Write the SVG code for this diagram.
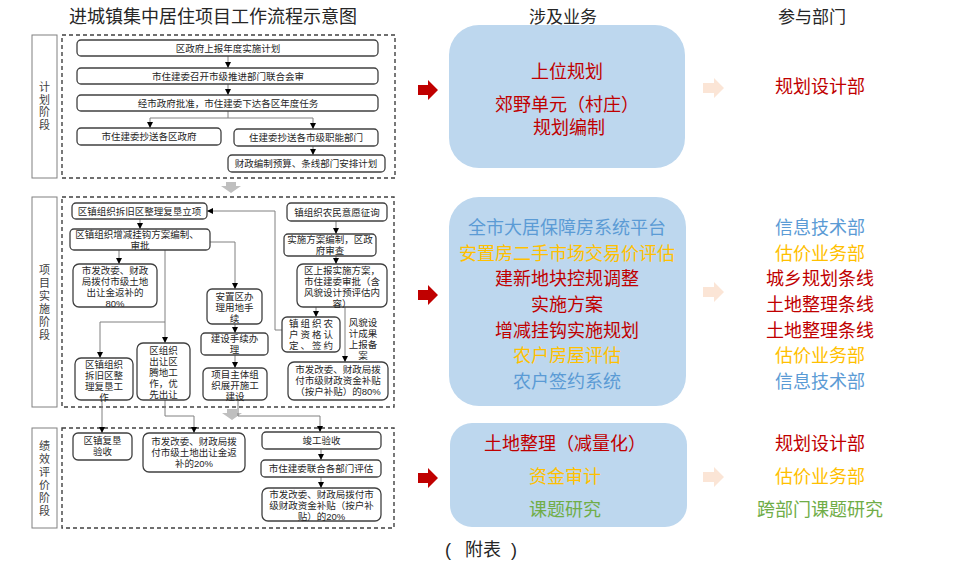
<svg xmlns="http://www.w3.org/2000/svg" width="960" height="567" viewBox="0 0 960 567">
<defs>
<style>
text{font-family:"Liberation Sans","Noto Sans CJK SC",sans-serif;dominant-baseline:central;text-anchor:middle}
.t{font-size:9.5px;fill:#262626}
.ph{font-size:11px;fill:#404040}
.bx{fill:#fff;stroke:#404040;stroke-width:1.3}
.lb{fill:#fff;stroke:#808080;stroke-width:1}
.fr{fill:none;stroke:#404040;stroke-width:1.4;stroke-dasharray:4 3}
.cn{fill:none;stroke:#808080;stroke-width:1}
.big{font-size:18px}
.hd{font-size:17px;fill:#262626}
.r{fill:#C00000}.g{fill:#FFC000}.b{fill:#5B9BD5}.gr{fill:#70AD47}
.bl{fill:#BDD7EE}
</style>
<marker id="ah" markerWidth="6" markerHeight="6" refX="6" refY="3" orient="auto" markerUnits="userSpaceOnUse"><path d="M0,0 L6,3 L0,6 z" fill="#000"/></marker>
</defs>
<rect width="960" height="567" fill="#fff"/>
<text x="213" y="17" style="font-size:18px;fill:#262626">进城镇集中居住项目工作流程示意图</text>
<text class="hd" x="563" y="17">涉及业务</text>
<text class="hd" x="812" y="17">参与部门</text>

<g id="phase-plan"><rect class="lb" x="32" y="35" width="25" height="143"/>
<text class="ph" x="44.5" y="87">计</text><text class="ph" x="44.5" y="99.5">划</text><text class="ph" x="44.5" y="112">阶</text><text class="ph" x="44.5" y="124.5">段</text>
<rect class="fr" x="62" y="35" width="333" height="143"/></g>
<g id="phase-impl"><rect class="lb" x="32" y="197" width="25" height="210"/>
<text class="ph" x="44.5" y="270">项</text><text class="ph" x="44.5" y="283">目</text><text class="ph" x="44.5" y="296">实</text><text class="ph" x="44.5" y="309">施</text><text class="ph" x="44.5" y="322">阶</text><text class="ph" x="44.5" y="335">段</text>
<rect class="fr" x="62" y="197" width="332" height="210"/></g>
<g id="phase-eval"><rect class="lb" x="32" y="428" width="25" height="100"/>
<text class="ph" x="44.5" y="446">绩</text><text class="ph" x="44.5" y="459">效</text><text class="ph" x="44.5" y="472">评</text><text class="ph" x="44.5" y="485">价</text><text class="ph" x="44.5" y="498">阶</text><text class="ph" x="44.5" y="511">段</text>
<rect class="fr" x="62" y="428" width="332" height="100"/></g>

<polygon points="226,182 236,182 236,186 241,186 231,193 221,186 226,186" fill="#BFBFBF"/>
<polygon points="227,409 237,409 237,413 242,413 232,420 222,413 227,413" fill="#BFBFBF"/>

<g id="connectors">
<path class="cn" marker-end="url(#ah)" d="M228,56 V68"/>
<path class="cn" marker-end="url(#ah)" d="M228,84 V95"/>
<path class="cn" d="M228,111 V118 M150,118 H313"/>
<path class="cn" marker-end="url(#ah)" d="M150,118 V128"/>
<path class="cn" marker-end="url(#ah)" d="M313,118 V129"/>
<path class="cn" marker-end="url(#ah)" d="M313,146 V155"/>

<path class="cn" marker-end="url(#ah)" d="M140,219 V229"/>
<path class="cn" marker-end="url(#ah)" d="M119,250 V264"/>
<path class="cn" marker-end="url(#ah)" d="M210,242 H235 V289"/>
<path class="cn" marker-end="url(#ah)" d="M165,250 V343"/>
<path class="cn" marker-end="url(#ah)" d="M165,322 H100 V358"/>
<path class="cn" marker-end="url(#ah)" d="M282,330 H275 V211 H207"/>
<path class="cn" marker-end="url(#ah)" d="M336,221 V234"/>
<path class="cn" marker-end="url(#ah)" d="M336,256 V264"/>
<path class="cn" marker-end="url(#ah)" d="M316,307 V317"/>
<path class="cn" marker-end="url(#ah)" d="M345,307 V362"/>
<path class="cn" marker-end="url(#ah)" d="M235,324 V333"/>
<path class="cn" marker-end="url(#ah)" d="M235,355 V368"/>

<path class="cn" marker-end="url(#ah)" d="M102,400 V433"/>
<path class="cn" marker-end="url(#ah)" d="M165,400 V416 H194 V433"/>
<path class="cn" marker-end="url(#ah)" d="M238,400 V416 H320 V432"/>
<path class="cn" marker-end="url(#ah)" d="M321,449 V460"/>
<path class="cn" marker-end="url(#ah)" d="M321,477 V488"/>
</g>

<g id="p1"><rect class="bx" x="77" y="40" width="301" height="16" rx="4"/><text class="t" x="228" y="48">区政府上报年度实施计划</text></g>
<g id="p2"><rect class="bx" x="77" y="68" width="301" height="16" rx="4"/><text class="t" x="228" y="76">市住建委召开市级推进部门联合会审</text></g>
<g id="p3"><rect class="bx" x="77" y="95" width="301" height="16" rx="4"/><text class="t" x="228" y="103">经市政府批准，市住建委下达各区年度任务</text></g>
<g id="p4"><rect class="bx" x="77" y="128" width="144" height="17" rx="4"/><text class="t" x="149" y="136.5">市住建委抄送各区政府</text></g>
<g id="p5"><rect class="bx" x="234" y="129" width="144" height="17" rx="4"/><text class="t" x="306" y="137.5">住建委抄送各市级职能部门</text></g>
<g id="p6"><rect class="bx" x="228" y="155" width="157" height="17" rx="4"/><text class="t" x="306" y="163.5">财政编制预算、条线部门安排计划</text></g>

<g id="a"><rect class="bx" x="72" y="203" width="135" height="16" rx="4"/><text class="t" x="139.5" y="211">区镇组织拆旧区整理复垦立项</text></g>
<g id="b"><rect class="bx" x="70" y="229" width="140" height="21" rx="4"/><text class="t" x="137" y="234.5">区镇组织增减挂钩方案编制、</text><text class="t" x="140" y="245.5">审批</text></g>
<g id="c"><rect class="bx" x="73" y="264" width="84" height="43" rx="6"/><text class="t" x="115" y="270">市发改委、财政</text><text class="t" x="115" y="281">局拨付市级土地</text><text class="t" x="115" y="292">出让金返补的</text><text class="t" x="115" y="303">80%</text></g>
<g id="d"><rect class="bx" x="207" y="289" width="55" height="35" rx="5"/><text class="t" x="234.5" y="296">安置区办</text><text class="t" x="234.5" y="307">理用地手</text><text class="t" x="234.5" y="318">续</text></g>
<g id="e"><rect class="bx" x="201" y="333" width="67" height="22" rx="4"/><text class="t" x="234.5" y="338.5">建设手续办</text><text class="t" x="234.5" y="349.5">理</text></g>
<g id="f"><rect class="bx" x="203" y="368" width="64" height="32" rx="5"/><text class="t" x="235" y="374">项目主体组</text><text class="t" x="235" y="385">织展开施工</text><text class="t" x="235" y="396">建设</text></g>
<g id="g"><rect class="bx" x="75" y="358" width="58" height="42" rx="6"/><text class="t" x="104" y="364">区镇组织</text><text class="t" x="104" y="375">拆旧区整</text><text class="t" x="104" y="386">理复垦工</text><text class="t" x="104" y="397">作</text></g>
<g id="h"><rect class="bx" x="137" y="343" width="53" height="57" rx="6"/><text class="t" x="163.5" y="350">区组织</text><text class="t" x="163.5" y="361">出让区</text><text class="t" x="163.5" y="372">腾地工</text><text class="t" x="163.5" y="383">作，优</text><text class="t" x="163.5" y="394">先出让</text></g>
<g id="i"><rect class="bx" x="287" y="203" width="100" height="18" rx="4"/><text class="t" x="337" y="212">镇组织农民意愿征询</text></g>
<g id="j"><rect class="bx" x="284" y="234" width="92" height="22" rx="4"/><text class="t" x="330" y="239.5">实施方案编制，区政</text><text class="t" x="330" y="250.5">府审查</text></g>
<g id="k"><rect class="bx" x="297" y="264" width="90" height="43" rx="6"/><text class="t" x="342" y="270">区上报实施方案，</text><text class="t" x="342" y="281">市住建委审批（含</text><text class="t" x="342" y="292">风貌设计预评估内</text><text class="t" x="342" y="303">容）</text></g>
<g id="l"><rect class="bx" x="282" y="317" width="58" height="35" rx="5"/><text class="t" x="312" y="323.5" style="letter-spacing:2px">镇组织农</text><text class="t" x="312" y="334.5" style="letter-spacing:2px">户资格认</text><text class="t" x="312" y="345.5" style="letter-spacing:2px">定、签约</text></g>
<g id="note"><text class="t" x="363" y="322">风貌设</text><text class="t" x="363" y="333">计成果</text><text class="t" x="363" y="344">上报备</text><text class="t" x="363" y="355">案</text></g>
<g id="m"><rect class="bx" x="288" y="362" width="100" height="38" rx="6"/><text class="t" x="338" y="369.5">市发改委、财政局拨</text><text class="t" x="338" y="380.5">付市级财政资金补贴</text><text class="t" x="338" y="391.5">（按户补贴）的80%</text></g>

<g id="n"><rect class="bx" x="73" y="433" width="59" height="27" rx="5"/><text class="t" x="102.5" y="440">区镇复垦</text><text class="t" x="102.5" y="451">验收</text></g>
<g id="o"><rect class="bx" x="143" y="433" width="102" height="39" rx="6"/><text class="t" x="194" y="441">市发改委、财政局拨</text><text class="t" x="194" y="452">付市级土地出让金返</text><text class="t" x="194" y="463">补的20%</text></g>
<g id="p"><rect class="bx" x="262" y="432" width="119" height="17" rx="4"/><text class="t" x="321.5" y="440.5">竣工验收</text></g>
<g id="q"><rect class="bx" x="261" y="460" width="120" height="17" rx="4"/><text class="t" x="321" y="468.5">市住建委联合各部门评估</text></g>
<g id="r"><rect class="bx" x="262" y="488" width="119" height="33" rx="6"/><text class="t" x="321.5" y="494">市发改委、财政局拨付市</text><text class="t" x="321.5" y="505">级财政资金补贴（按户补</text><text class="t" x="321.5" y="516">贴）的20%</text></g>

<g id="arrows-red" fill="#C00000">
<polygon points="418,85 428,85 428,80 438,90 428,100 428,95 418,95"/>
<polygon points="418,290 428,290 428,285 438,295 428,305 428,300 418,300"/>
<polygon points="418,473 428,473 428,468 438,478 428,488 428,483 418,483"/>
</g>
<g id="arrows-peach" fill="#FBE5D6">
<polygon points="703,83 714,83 714,78 724,88 714,98 714,93 703,93"/>
<polygon points="703,287 714,287 714,282 724,292 714,302 714,297 703,297"/>
<polygon points="703,472 714,472 714,467 724,477 714,487 714,482 703,482"/>
</g>

<g id="biz1"><rect class="bl" x="449" y="25" width="236" height="143" rx="30"/>
<text class="big r" x="567" y="72">上位规划</text>
<text class="big r" x="567" y="105">郊野单元（村庄）</text>
<text class="big r" x="569" y="128">规划编制</text></g>
<g id="biz2"><rect class="bl" x="449" y="197" width="237" height="209" rx="30"/>
<text class="big b" x="567" y="228">全市大居保障房系统平台</text>
<text class="big g" x="567" y="254">安置房二手市场交易价评估</text>
<text class="big r" x="567" y="279">建新地块控规调整</text>
<text class="big r" x="567" y="305">实施方案</text>
<text class="big r" x="567" y="331">增减挂钩实施规划</text>
<text class="big g" x="567" y="356">农户房屋评估</text>
<text class="big b" x="567" y="382">农户签约系统</text></g>
<g id="biz3"><rect class="bl" x="450" y="423" width="237" height="104" rx="22"/>
<text class="big r" x="565" y="444">土地整理（减量化）</text>
<text class="big g" x="565" y="477">资金审计</text>
<text class="big gr" x="565" y="510">课题研究</text></g>

<g id="dept1"><text class="big r" x="820" y="87">规划设计部</text></g>
<g id="dept2">
<text class="big b" x="820" y="228">信息技术部</text>
<text class="big g" x="820" y="254">估价业务部</text>
<text class="big r" x="820" y="279">城乡规划条线</text>
<text class="big r" x="820" y="305">土地整理条线</text>
<text class="big r" x="820" y="331">土地整理条线</text>
<text class="big g" x="820" y="356">估价业务部</text>
<text class="big b" x="820" y="382">信息技术部</text></g>
<g id="dept3">
<text class="big r" x="820" y="444">规划设计部</text>
<text class="big g" x="820" y="477">估价业务部</text>
<text class="big gr" x="820" y="510">跨部门课题研究</text></g>

<text y="550" style="font-size:18px;fill:#262626"><tspan x="448">(</tspan><tspan x="483">附表</tspan><tspan x="514">)</tspan></text>
</svg>
